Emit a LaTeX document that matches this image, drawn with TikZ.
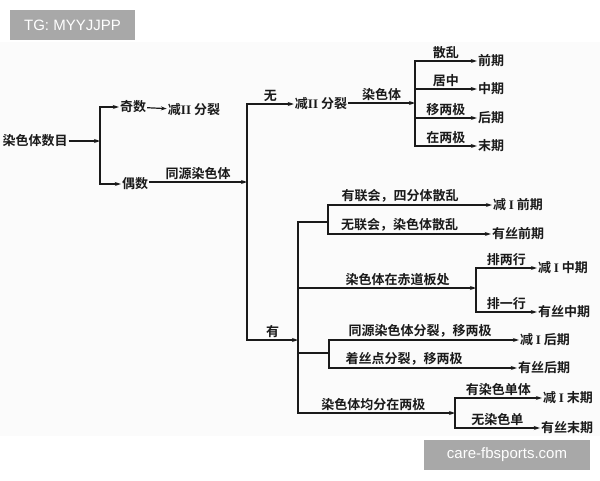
\documentclass[tikz,border=0pt]{standalone}
\usepackage{fontspec}
\usepackage{xcolor}
\usetikzlibrary{arrows.meta}
\setmainfont{Liberation Serif}
\newfontfamily\cjk{Noto Sans CJK SC}[BoldFont={Noto Sans CJK SC Bold}]
\newfontfamily\wmfont{Liberation Sans}
\newfontfamily\romfont{Liberation Serif}
\definecolor{ink}{HTML}{1A1A1A}
\definecolor{paper}{HTML}{FBFBFB}
\definecolor{wmgray}{HTML}{A8A8A8}
\tikzset{
  item/.style={font=\cjk\bfseries\fontsize{13}{15}\selectfont, text=ink, inner sep=1pt},
  lbl/.style={item, above=1pt},
  arr/.style={draw=ink, line width=1.2pt, -{Stealth[length=6pt,width=4pt]}},
  joint/.style={draw=ink, line width=1.2pt},
  wmark/.style={fill=wmgray, text=white, font=\wmfont\fontsize{15}{17}\selectfont, inner sep=0pt}
}
\newcommand{\rn}[1]{{\romfont\bfseries #1}}
\begin{document}
\begin{tikzpicture}[x=1pt,y=-1pt]
\useasboundingbox (0,0) rectangle (600,480);
\fill[paper] (0,42) rectangle (600,436);

% watermarks
\node[wmark, minimum width=125pt, minimum height=30pt] (tg) at (72.5,25) {TG: MYYJJPP};
\node[wmark, minimum width=166pt, minimum height=30pt] (site) at (507,455) {care-fbsports.com};

% left part
\node[item] (num) at (35,141) {染色体数目};
\coordinate (b1) at (100,141);
\node[item] (odd) at (133,107) {奇数};
\node[item] (mIIa) at (194,110) {减\rn{II} 分裂};
\node[item] (even) at (135,184) {偶数};
\coordinate (b2) at (247,182);

\draw[arr] (num) -- (b1);
\draw[arr] (b1) |- (odd.west);
\draw[arr] (b1) |- (even.west);
\draw[arr] (odd) -- (mIIa);
\draw[arr] (even.east |- b2) -- node[lbl] {同源染色体} (b2);

% no homologues
\node[item] (mIIb) at (321,104) {减\rn{II} 分裂};
\coordinate (c1) at (415,103);
\node[item] (p1) at (491,61) {前期};
\node[item] (p2) at (491,89) {中期};
\node[item] (p3) at (491,118) {后期};
\node[item] (p4) at (491,146) {末期};

\draw[arr] (b2) |- node[lbl, pos=.75] {无} (mIIb.west);
\draw[arr] (mIIb.east |- c1) -- node[lbl] {染色体} (c1);
\draw[arr] (c1) |- node[lbl, pos=.75] {散乱} (p1.west);
\draw[arr] (c1) |- node[lbl, pos=.75] {居中} (p2.west);
\draw[arr] (c1) |- node[lbl, pos=.75] {移两极} (p3.west);
\draw[arr] (c1) |- node[lbl, pos=.75] {在两极} (p4.west);

% homologues present
\coordinate (b3) at (298,340);
\draw[arr] (b2) |- node[lbl, pos=.75] {有} (b3);

\coordinate (d1) at (328,222);
\node[item] (q1) at (518,205) {减 \rn{I} 前期};
\node[item] (q2) at (518,234) {有丝前期};
\draw[joint] (b3) |- (d1);
\draw[arr] (d1) |- node[lbl, pos=.72] {有联会，四分体散乱} (q1.west);
\draw[arr] (d1) |- node[lbl, pos=.72] {无联会，染色体散乱} (q2.west);

\coordinate (d2) at (476,288);
\node[item] (r1) at (563,268) {减 \rn{I} 中期};
\node[item] (r2) at (564,312) {有丝中期};
\draw[arr] (b3) |- node[lbl, pos=.78] {染色体在赤道板处} (d2);
\draw[arr] (d2) |- node[lbl, pos=.75] {排两行} (r1.west);
\draw[arr] (d2) |- node[lbl, pos=.75] {排一行} (r2.west);

\coordinate (d3) at (329,353);
\node[item] (s1) at (545,340) {减 \rn{I} 后期};
\node[item] (s2) at (544,368) {有丝后期};
\draw[joint] (b3) |- (d3);
\draw[arr] (d3) |- node[lbl, pos=.74] {同源染色体分裂，移两极} (s1.west);
\draw[arr] (d3) |- node[lbl, pos=.7] {着丝点分裂，移两极} (s2.west);

\coordinate (d4) at (455,413);
\node[item] (t1) at (568,398) {减 \rn{I} 末期};
\node[item] (t2) at (567,428) {有丝末期};
\draw[arr] (b3) |- node[lbl, pos=.74] {染色体均分在两极} (d4);
\draw[arr] (d4) |- node[lbl, pos=.75] {有染色单体} (t1.west);
\draw[arr] (d4) |- node[lbl, pos=.75] {无染色单} (t2.west);

\end{tikzpicture}
\end{document}
